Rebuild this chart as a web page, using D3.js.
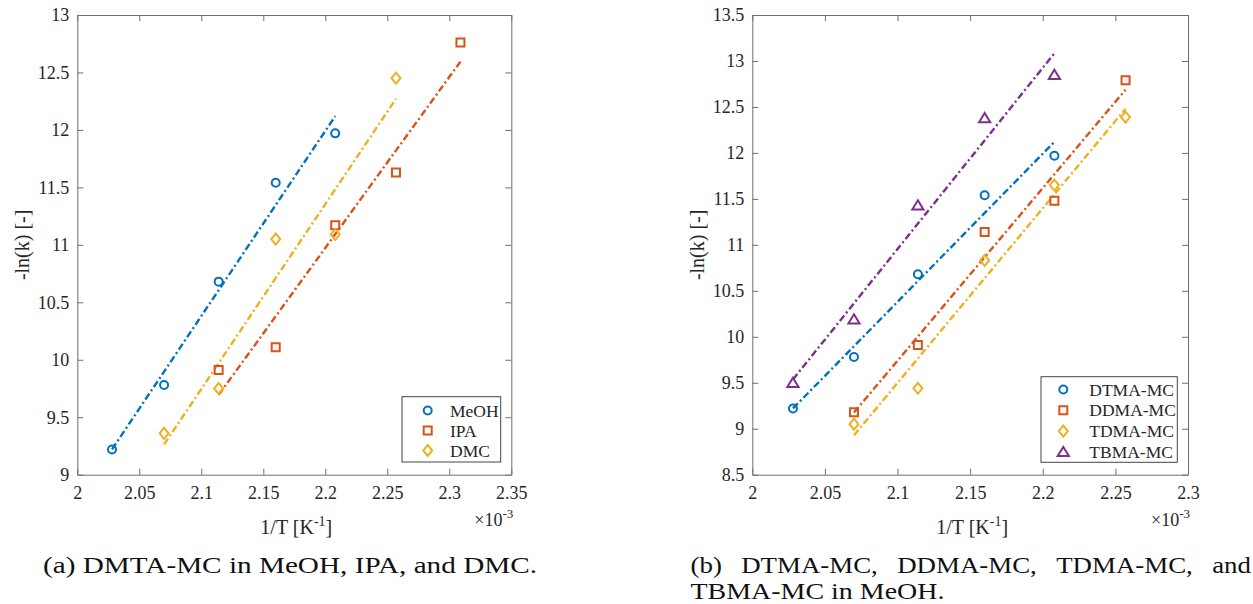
<!DOCTYPE html>
<html>
<head>
<meta charset="utf-8">
<script src="https://cdn.jsdelivr.net/npm/d3@7"></script>
<style>
  html, body { margin: 0; padding: 0; background: #fff; }
  svg { display: block; }
</style>
</head>
<body>
<svg id="fig" width="1253" height="604"></svg>
<script>
// ---- Arrhenius data: x = 1/T (×10^-3 K^-1), y = -ln(k) ----
// Panel (a): DMTA-MC in different solvents
const meohX = [2.028, 2.070, 2.114, 2.160, 2.208];
const meohY = [9.22, 9.78, 10.68, 11.54, 11.97];
const ipaX  = [2.114, 2.160, 2.208, 2.257, 2.309];
const ipaY  = [9.91, 10.11, 11.17, 11.63, 12.76];
const dmcX  = [2.070, 2.114, 2.160, 2.208, 2.257];
const dmcY  = [9.36, 9.75, 11.05, 11.09, 12.45];

// Panel (b): different carbonates in MeOH
const dtmaX = [2.028, 2.070, 2.114, 2.160, 2.208];
const dtmaY = [9.22, 9.78, 10.68, 11.54, 11.97];
const ddmaX = [2.070, 2.114, 2.160, 2.208, 2.257];
const ddmaY = [9.18, 9.91, 11.14, 11.48, 12.79];
const tdmaX = [2.070, 2.114, 2.160, 2.208, 2.257];
const tdmaY = [9.05, 9.44, 10.83, 11.65, 12.39];
const tbmaX = [2.028, 2.070, 2.114, 2.160, 2.208];
const tbmaY = [9.50, 10.19, 11.43, 12.38, 12.85];

// Axis ticks
const leftXTicks  = [2, 2.05, 2.1, 2.15, 2.2, 2.25, 2.3, 2.35];
const leftYTicks  = [9, 9.5, 10, 10.5, 11, 11.5, 12, 12.5, 13];
const rightXTicks = [2, 2.05, 2.1, 2.15, 2.2, 2.25, 2.3];
const rightYTicks = [8.5, 9, 9.5, 10, 10.5, 11, 11.5, 12, 12.5, 13, 13.5];

// Captions
const captionA = "(a) DMTA-MC in MeOH, IPA, and DMC.";
const captionB1 = ["(b)", "DTMA-MC,", "DDMA-MC,", "TDMA-MC,", "and"];
const captionB2 = "TBMA-MC in MeOH.";

// ---- styling ----
const FONT = "Liberation Serif";
const COL = { blue: "#0072BD", red: "#D95319", yellow: "#EDB120", purple: "#7E2F8E" };
const AXIS_COL = "#6f6f6f";
const TEXT_COL = "#262626";

const shapes = {
  circle:   "M4,0A4,4 0 1,1 -4,0A4,4 0 1,1 4,0Z",
  square:   "M-4,-4H4V4H-4Z",
  diamond:  "M0,-5.5L4.5,0L0,5.5L-4.5,0Z",
  triangle: "M0,-5L5.6,4.2H-5.6Z"
};

const svg = d3.select("#fig");
const fmt = d => String(+d.toFixed(2));
const serif = (sel, size) => sel.attr("font-family", FONT).attr("font-size", size);

// least-squares fit, drawn across the measured range
function fitLine(xs, ys) {
  const mx = d3.mean(xs), my = d3.mean(ys);
  let sxy = 0, sxx = 0;
  xs.forEach((x, i) => { sxy += (x - mx) * (ys[i] - my); sxx += (x - mx) ** 2; });
  const b = sxy / sxx, a = my - b * mx;
  const x0 = d3.min(xs), x1 = d3.max(xs);
  return [[x0, a + b * x0], [x1, a + b * x1]];
}

function drawPanel(p) {
  const x = d3.scaleLinear().domain(p.xDomain).range([p.left, p.right]);
  const y = d3.scaleLinear().domain(p.yDomain).range([p.bottom, p.top]);
  const g = svg.append("g");

  const styleAxis = sel => {
    sel.call(serif, 18);
    sel.select(".domain").attr("stroke", AXIS_COL).attr("stroke-width", 1);
    sel.selectAll(".tick line").attr("stroke", AXIS_COL).attr("stroke-width", 1);
    sel.selectAll(".tick text").attr("fill", TEXT_COL).call(serif, 18);
  };

  g.append("g").attr("transform", `translate(0,${p.bottom})`)
    .call(d3.axisBottom(x).tickValues(p.xTicks).tickFormat(fmt)
      .tickSizeInner(-6).tickSizeOuter(0).tickPadding(12))
    .call(styleAxis);
  g.append("g").attr("transform", `translate(0,${p.top})`)
    .call(d3.axisTop(x).tickValues(p.xTicks).tickFormat("")
      .tickSizeInner(-6).tickSizeOuter(0))
    .call(styleAxis);
  g.append("g").attr("transform", `translate(${p.left},0)`)
    .call(d3.axisLeft(y).tickValues(p.yTicks).tickFormat(fmt)
      .tickSizeInner(-6).tickSizeOuter(0).tickPadding(8))
    .call(styleAxis);
  g.append("g").attr("transform", `translate(${p.right},0)`)
    .call(d3.axisRight(y).tickValues(p.yTicks).tickFormat("")
      .tickSizeInner(-6).tickSizeOuter(0))
    .call(styleAxis);

  // fit lines
  const line = d3.line().x(d => x(d[0])).y(d => y(d[1]));
  p.series.forEach(s => {
    g.append("path").attr("d", line(fitLine(s.xs, s.ys)))
      .attr("fill", "none").attr("stroke", s.color).attr("stroke-width", 2.4)
      .attr("stroke-dasharray", "7,3,2,3");
  });
  // markers
  p.series.forEach(s => {
    g.append("g").selectAll("path").data(s.xs.map((v, i) => [v, s.ys[i]]))
      .join("path")
      .attr("d", shapes[s.shape])
      .attr("transform", d => `translate(${x(d[0])},${y(d[1])})`)
      .attr("fill", "none").attr("stroke", s.color).attr("stroke-width", 2);
  });

  // axis titles
  g.append("text")
    .attr("transform", `translate(${p.left - 48},${(p.top + p.bottom) / 2}) rotate(-90)`)
    .attr("text-anchor", "middle").attr("fill", TEXT_COL)
    .call(serif, 20)
    .text("-ln(k) [-]");

  const xl = g.append("text")
    .attr("x", (p.left + p.right) / 2 + 2).attr("y", p.bottom + 59)
    .attr("text-anchor", "middle").attr("fill", TEXT_COL)
    .call(serif, 20);
  xl.append("tspan").text("1/T [K");
  xl.append("tspan").attr("dy", -8).attr("font-size", 14).text("-1");
  xl.append("tspan").attr("dy", 8).text("]");

  const ex = g.append("text")
    .attr("x", p.right + 2).attr("y", p.bottom + 51)
    .attr("text-anchor", "end").attr("fill", TEXT_COL)
    .call(serif, 18);
  ex.append("tspan").text("\u00d710");
  ex.append("tspan").attr("dy", -8).attr("font-size", 13).text("-3");

  // legend
  const L = p.legend;
  g.append("rect").attr("x", L.x0).attr("y", L.y0)
    .attr("width", L.x1 - L.x0).attr("height", L.y1 - L.y0)
    .attr("fill", "#fff").attr("stroke", "#444").attr("stroke-width", 1);
  p.series.forEach((s, i) => {
    const cy = L.row0 + i * L.step;
    g.append("path").attr("d", shapes[s.shape])
      .attr("transform", `translate(${L.mx},${cy})`)
      .attr("fill", "none").attr("stroke", s.color).attr("stroke-width", 2);
    g.append("text").attr("x", L.tx).attr("y", cy).attr("dy", "0.35em")
      .attr("fill", TEXT_COL)
      .call(serif, 17.5)
      .text(s.name);
  });
}

drawPanel({
  left: 77.3, right: 511.3, top: 15, bottom: 474.7,
  xDomain: [2, 2.35], yDomain: [9, 13],
  xTicks: leftXTicks, yTicks: leftYTicks,
  series: [
    { name: "MeOH", xs: meohX, ys: meohY, color: COL.blue, shape: "circle" },
    { name: "IPA", xs: ipaX, ys: ipaY, color: COL.red, shape: "square" },
    { name: "DMC", xs: dmcX, ys: dmcY, color: COL.yellow, shape: "diamond" }
  ],
  legend: { x0: 402, x1: 500.7, y0: 396.7, y1: 462, mx: 427.7, tx: 450, row0: 410.5, step: 20 }
});

drawPanel({
  left: 752.3, right: 1188, top: 15, bottom: 474.7,
  xDomain: [2, 2.3], yDomain: [8.5, 13.5],
  xTicks: rightXTicks, yTicks: rightYTicks,
  series: [
    { name: "DTMA-MC", xs: dtmaX, ys: dtmaY, color: COL.blue, shape: "circle" },
    { name: "DDMA-MC", xs: ddmaX, ys: ddmaY, color: COL.red, shape: "square" },
    { name: "TDMA-MC", xs: tdmaX, ys: tdmaY, color: COL.yellow, shape: "diamond" },
    { name: "TBMA-MC", xs: tbmaX, ys: tbmaY, color: COL.purple, shape: "triangle" }
  ],
  legend: { x0: 1041, x1: 1177.3, y0: 376.7, y1: 462.3, mx: 1063.3, tx: 1089.3, row0: 389.5, step: 20.8 }
});

// ---- captions ----
const capStyle = sel => sel.attr("fill", "#111").call(serif, 23.5);
const capA = svg.append("text").attr("x", 43).attr("y", 573).call(capStyle).text(captionA);
// widen the glyphs a little so the caption spans its column
const stretch = 494 / capA.node().getComputedTextLength();
capA.attr("textLength", 494).attr("lengthAdjust", "spacingAndGlyphs");

// first line of (b) is justified between the margins
const bx0 = 690.5, bx1 = 1251;
const words = captionB1.map(w => svg.append("text").attr("y", 573).call(capStyle).text(w));
const widths = words.map(t => t.node().getComputedTextLength() * stretch * 0.92);
const gap = (bx1 - bx0 - d3.sum(widths)) / (words.length - 1);
let cx = bx0;
words.forEach((t, i) => {
  t.attr("x", cx).attr("textLength", widths[i]).attr("lengthAdjust", "spacingAndGlyphs");
  cx += widths[i] + gap;
});

svg.append("text").attr("x", bx0).attr("y", 598.8)
  .attr("textLength", 254).attr("lengthAdjust", "spacingAndGlyphs")
  .call(capStyle).text(captionB2);
</script>
</body>
</html>
